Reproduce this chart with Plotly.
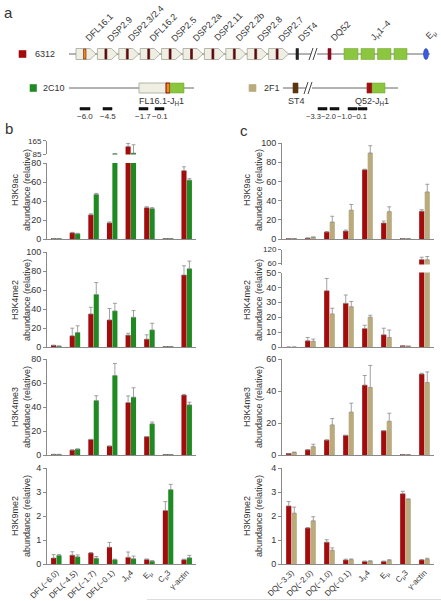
import plotly.graph_objects as go

# ---------------- data ----------------
b_cats = ["DFL(−6.0)", "DFL(−4.5)", "DFL(−1.7)", "DFL(−0.1)", "J<sub>H</sub>4", "E<sub>μ</sub>", "C<sub>μ</sub>3", "γ-actin"]
c_cats = ["DQ(−3.3)", "DQ(−2.0)", "DQ(−1.0)", "DQ(−0.1)", "J<sub>H</sub>4", "E<sub>μ</sub>", "C<sub>μ</sub>3", "γ-actin"]

b_k9ac_6312 = [0.5, 6.5, 25.5, 17, 131, 33, 0.5, 72]
b_k9ac_6312_err = [0, 0.5, 1, 1, 18, 1, 0, 4]
b_k9ac_2c10 = [0.5, 5.5, 47, 87, 91, 32, 0.5, 62]
b_k9ac_2c10_err = [0, 0.5, 1, 1, 50, 1, 0, 1.5]

b_k4me2_6312 = [1.5, 11.8, 34.8, 28.5, 12.5, 8.3, 0.5, 75.8]
b_k4me2_6312_err = [0.5, 8, 7, 12, 2, 4.5, 0, 9.7]
b_k4me2_2c10 = [1, 15.3, 55.3, 38, 31.3, 18, 0.5, 82.4]
b_k4me2_2c10_err = [0, 7, 12.5, 8, 7, 7, 0, 8]

b_k4me3_6312 = [0.5, 4.2, 13, 7.5, 43.7, 15.3, 0.3, 50]
b_k4me3_6312_err = [0, 0, 0, 0, 5.5, 0, 0, 0.5]
b_k4me3_2c10 = [0.5, 5, 45.4, 66.3, 48.2, 26, 0.3, 41.8]
b_k4me3_2c10_err = [0, 0, 4, 10, 7.8, 1.5, 0, 2.2]

b_k9me2_6312 = [0.25, 0.37, 0.46, 0.70, 0.28, 0.19, 2.23, 0.18]
b_k9me2_6312_err = [0.14, 0.14, 0.02, 0.2, 0.22, 0.02, 0.37, 0.02]
b_k9me2_2c10 = [0.36, 0.30, 0.24, 0.18, 0.22, 0.12, 3.10, 0.26]
b_k9me2_2c10_err = [0.03, 0.08, 0.07, 0.02, 0.11, 0.02, 0.22, 0.1]

c_k9ac_6312 = [0.5, 1, 7.3, 8.3, 72.2, 16.7, 0.5, 29]
c_k9ac_6312_err = [0, 0, 0.5, 1, 0.5, 2, 0, 1.5]
c_k9ac_2f1 = [0.5, 2, 17.7, 30, 89.6, 28.5, 0.5, 49]
c_k9ac_2f1_err = [0, 0, 6, 6, 7.6, 5, 0, 8]

c_k4me2_6312 = [0, 4.2, 37.8, 29.3, 12.4, 8.2, 0.5, 77]
c_k4me2_6312_err = [0, 2.2, 8.2, 5.6, 2.2, 4.4, 0, 10]
c_k4me2_2f1 = [0, 3.8, 22.2, 27, 20, 6.4, 0.4, 76]
c_k4me2_2f1_err = [0, 1.5, 3.8, 3.6, 1.3, 5, 0, 14]

c_k4me3_6312 = [0.8, 3.3, 9.4, 12.3, 43.7, 15.2, 0.2, 50.6]
c_k4me3_6312_err = [0, 0, 0, 0, 6, 0, 0, 0.5]
c_k4me3_2f1 = [1.7, 5.2, 18.8, 26.8, 42.2, 21.1, 0.2, 45.3]
c_k4me3_2f1_err = [0, 1.5, 4, 5.6, 13.8, 5, 0, 6.6]

c_k9me2_6312 = [2.42, 1.50, 0.91, 0.17, 0.11, 0.11, 2.93, 0.17]
c_k9me2_6312_err = [0.18, 0.02, 0.1, 0.03, 0.01, 0.01, 0.1, 0.02]
c_k9me2_2f1 = [2.12, 1.80, 0.57, 0.18, 0.12, 0.15, 2.70, 0.20]
c_k9me2_2f1_err = [0.25, 0.17, 0.1, 0.03, 0.01, 0.03, 0.01, 0.04]

gene_labels = ["DFL16.1", "DSP2.9", "DSP2.3/2.4", "DFL16.2", "DSP2.5", "DSP2.2a",
               "DSP2.11", "DSP2.2b", "DSP2.8", "DSP2.7"]
b_primers = ["−6.0", "−4.5", "−1.7", "−0.1"]
c_primers = ["−3.3", "−2.0", "−1.0", "−0.1"]

# ---------------- style ----------------
W, H = 441, 601
RED = "#a20c0c"
GREEN = "#1f8a22"
TAN = "#baab7e"
LIME = "#8cc63f"
BEIGE = "#eeeee2"
AX = "#8a8a8a"
TXT = "#333333"
FONT = "Liberation Sans, Arial, sans-serif"


def ydom(top, bot):
    return [1 - bot / H, 1 - top / H]


BX = [47 / W, 196 / W]
CX = [282 / W, 434 / W]

# (xdomain, (top px, bottom px), range, tickvals, categories, axis line, tick labels, tick font, series)
panels = [
    (BX, (163, 239), [0, 80], [0, 20, 40, 60, 80], b_cats, True, False, 9,
     [(b_k9ac_6312, b_k9ac_6312_err, RED), (b_k9ac_2c10, b_k9ac_2c10_err, GREEN)]),
    (BX, (140.8, 154.4), [83, 165], [85, 165], b_cats, False, False, 8,
     [(b_k9ac_6312, b_k9ac_6312_err, RED), (b_k9ac_2c10, b_k9ac_2c10_err, GREEN)]),
    (BX, (252, 347), [0, 100], [0, 20, 40, 60, 80, 100], b_cats, True, False, 9,
     [(b_k4me2_6312, b_k4me2_6312_err, RED), (b_k4me2_2c10, b_k4me2_2c10_err, GREEN)]),
    (BX, (359, 455), [0, 80], [0, 20, 40, 60, 80], b_cats, True, False, 9,
     [(b_k4me3_6312, b_k4me3_6312_err, RED), (b_k4me3_2c10, b_k4me3_2c10_err, GREEN)]),
    (BX, (468, 564), [0, 4], [0, 1, 2, 3, 4], b_cats, True, True, 9,
     [(b_k9me2_6312, b_k9me2_6312_err, RED), (b_k9me2_2c10, b_k9me2_2c10_err, GREEN)]),
    (CX, (143, 239), [0, 100], [0, 20, 40, 60, 80, 100], c_cats, True, False, 9,
     [(c_k9ac_6312, c_k9ac_6312_err, RED), (c_k9ac_2f1, c_k9ac_2f1_err, TAN)]),
    (CX, (272.5, 347), [0, 50], [0, 10, 20, 30, 40, 50], c_cats, True, False, 9,
     [(c_k4me2_6312, c_k4me2_6312_err, RED), (c_k4me2_2f1, c_k4me2_2f1_err, TAN)]),
    (CX, (249.5, 264.5), [56, 120], [60, 120], c_cats, False, False, 8,
     [(c_k4me2_6312, c_k4me2_6312_err, RED), (c_k4me2_2f1, c_k4me2_2f1_err, TAN)]),
    (CX, (359, 455), [0, 60], [0, 20, 40, 60], c_cats, True, False, 9,
     [(c_k4me3_6312, c_k4me3_6312_err, RED), (c_k4me3_2f1, c_k4me3_2f1_err, TAN)]),
    (CX, (468, 564), [0, 4], [0, 1, 2, 3, 4], c_cats, True, True, 9,
     [(c_k9me2_6312, c_k9me2_6312_err, RED), (c_k9me2_2f1, c_k9me2_2f1_err, TAN)]),
]

fig = go.Figure()
layout = dict(template="none", width=W, height=H, margin=dict(l=0, r=0, t=0, b=0, pad=0),
              paper_bgcolor="white", plot_bgcolor="rgba(0,0,0,0)", showlegend=False,
              barmode="group", bargap=0.42, bargroupgap=0.06,
              font=dict(family=FONT, size=9, color=TXT))

for i, (xd, (yt, yb), rng, tv, cats, showx, showlab, tf, series) in enumerate(panels):
    k = i + 1
    xa = "x" if k == 1 else f"x{k}"
    ya = "y" if k == 1 else f"y{k}"
    for vals, errs, col in series:
        fig.add_trace(go.Bar(
            x=cats, y=vals, xaxis=xa, yaxis=ya, marker=dict(color=col, line=dict(width=0)),
            error_y=dict(type="data", array=errs, arrayminus=[0] * len(errs), symmetric=False,
                         color="#8a8a8a", thickness=0.8, width=2),
            hoverinfo="skip",
        ))
    layout["xaxis" if k == 1 else f"xaxis{k}"] = dict(
        domain=xd, anchor=ya, automargin=False,
        showline=showx, linecolor=AX, linewidth=1, ticks="",
        showticklabels=showlab, tickangle=-45, tickfont=dict(size=8, color=TXT),
        showgrid=False, zeroline=False,
    )
    layout["yaxis" if k == 1 else f"yaxis{k}"] = dict(
        domain=ydom(yt, yb), anchor=xa, range=rng, tickvals=tv, automargin=False,
        showline=True, linecolor=AX, linewidth=1, ticks="outside", ticklen=3,
        tickcolor=AX, tickfont=dict(size=tf, color=TXT), showgrid=False, zeroline=False,
    )

# overlay axis in pixel coordinates for the schematic and labels
fig.add_trace(go.Scatter(x=[0], y=[0], xaxis="x11", yaxis="y11", mode="markers",
                         marker=dict(opacity=0), hoverinfo="skip"))
layout["xaxis11"] = dict(domain=[0, 1], range=[0, W], visible=False, anchor="y11",
                         automargin=False, showgrid=False, zeroline=False)
layout["yaxis11"] = dict(domain=[0, 1], range=[H, 0], visible=False, anchor="x11",
                         automargin=False, showgrid=False, zeroline=False)

shapes = []
ann = []


def rect(x0, y0, x1, y1, fill, line=None, lw=0.6):
    shapes.append(dict(type="rect", xref="x11", yref="y11", x0=x0, y0=y0, x1=x1, y1=y1,
                       fillcolor=fill, line=dict(color=line or fill, width=lw), layer="above"))


def hline(x0, x1, y, col="#666666", w=1):
    shapes.append(dict(type="line", xref="x11", yref="y11", x0=x0, y0=y, x1=x1, y1=y,
                       line=dict(color=col, width=w), layer="above"))


def seg(x0, y0, x1, y1, col="#444444", w=1):
    shapes.append(dict(type="line", xref="x11", yref="y11", x0=x0, y0=y0, x1=x1, y1=y1,
                       line=dict(color=col, width=w), layer="above"))


def text(x, y, s, size=9, xa="center", ya="middle", angle=0, col=TXT):
    ann.append(dict(x=x, y=y, xref="x11", yref="y11", text=s, showarrow=False,
                    xanchor=xa, yanchor=ya, textangle=angle,
                    font=dict(size=size, color=col, family=FONT)))


def brk(x, yc):
    rect(x - 3, yc - 1, x + 3, yc + 1, "white", "white", 0)
    seg(x - 5, yc + 6, x - 1, yc - 6)
    seg(x - 1, yc + 6, x + 3, yc - 6)


# panel letters
text(8, 12, "a", size=15)
text(9, 128, "b", size=15)
text(244, 130, "c", size=15)

# row 1: 6312
Y1 = 54
rect(19, 50.5, 26, 57.5, RED)
text(33, Y1, "6312", xa="left")
hline(69, 430, Y1)
for i, name in enumerate(gene_labels):
    x0 = 76 + i * 21.4
    shapes.append(dict(type="path", xref="x11", yref="y11",
                       path=f"M {x0},{Y1-5.5} L {x0+14},{Y1-5.5} L {x0+20},{Y1} L {x0+14},{Y1+5.5} L {x0},{Y1+5.5} Z",
                       fillcolor=BEIGE, line=dict(color="#9a9a8a", width=0.7), layer="above"))
    if i == 0:
        rect(x0 + 7.5, Y1 - 5, x0 + 10, Y1 + 5, "#f08a1a", "#6a1a0a", 0.6)
    else:
        rect(x0 + 7.5, Y1 - 5, x0 + 9.5, Y1 + 5, "#5a0a12")
    text(x0 + 5, 46, name, xa="left", ya="bottom", angle=-45)
rect(296, Y1 - 5.5, 298.5, Y1 + 5.5, "#222222")
text(293, 46, "DST4", xa="left", ya="bottom", angle=-45)
brk(314, Y1)
rect(328, Y1 - 5.5, 331, Y1 + 5.5, "#8b0a1f")
text(326, 46, "DQ52", xa="left", ya="bottom", angle=-45)
for x0, x1 in [(344, 358), (361, 374.5), (377.5, 391), (394, 407)]:
    rect(x0, Y1 - 5.5, x1, Y1 + 5.5, LIME, "#6aa02a", 0.5)
text(366, 46, "J<sub>H</sub>1–4", xa="left", ya="bottom", angle=-45)
shapes.append(dict(type="circle", xref="x11", yref="y11", x0=423.5, y0=Y1 - 5.5, x1=428.5, y1=Y1 + 5.5,
                   fillcolor="#3a5ae0", line=dict(color="#2a3aa0", width=0.5), layer="above"))
text(421, 46, "E<sub>μ</sub>", xa="left", ya="bottom", angle=-45)

# row 2: 2C10 and 2F1
Y2 = 88
rect(30, 84.5, 36.5, 91.5, GREEN)
text(41, Y2, "2C10", xa="left")
hline(69, 194, Y2)
rect(139, Y2 - 5, 167, Y2 + 5, BEIGE, "#9a9a8a", 0.7)
rect(166, Y2 - 5, 170, Y2 + 5, "#f08a1a", "#7a0a0a", 1)
rect(170, Y2 - 5, 184, Y2 + 5, LIME, "#6aa02a", 0.5)
text(161, 101, "FL16.1-J<sub>H</sub>1")

rect(249, 84.5, 256, 91.5, TAN)
text(262, Y2, "2F1", xa="left")
hline(283, 398, Y2)
rect(293, Y2 - 5, 298, Y2 + 5, "#5a3510")
brk(309, Y2)
rect(367, Y2 - 5, 372, Y2 + 5, "#a01010")
rect(372, Y2 - 5, 385, Y2 + 5, LIME, "#6aa02a", 0.5)
text(296, 101, "ST4")
text(372, 101, "Q52-J<sub>H</sub>1")

# primer positions
for lab, (x0, x1), lx in zip(b_primers, [(80, 90), (103, 112), (139, 148), (155, 164)],
                             [85, 108, 143, 160]):
    rect(x0, 107.5, x1, 110, "#111111")
    text(lx, 116.5, lab, size=8)
for lab, (x0, x1), lx in zip(c_primers, [(318, 327), (330, 339), (348, 357), (358, 367)],
                             [313, 328.5, 344, 359.5]):
    rect(x0, 107.5, x1, 110, "#111111")
    text(lx, 116.5, lab, size=7.5)

# y-axis titles
titles = [("H3K9ac", 190), ("H3K4me2", 300), ("H3K4me3", 407), ("H3K9me2", 516)]
for name, yc in titles:
    for xc in (21, 253):
        text(xc, yc, f"{name}<br>abundance (relative)", angle=-90)

# faint rule at bottom
shapes.append(dict(type="line", xref="x11", yref="y11", x0=147, y0=599.5, x1=441, y1=599.5,
                   line=dict(color="#dddddd", width=1), layer="above"))

layout["shapes"] = shapes
layout["annotations"] = ann
fig.update_layout(**layout)
fig.write_html("out.html", config={"displayModeBar": False},
               post_script="document.body.style.margin='0';document.body.style.overflow='hidden';")
